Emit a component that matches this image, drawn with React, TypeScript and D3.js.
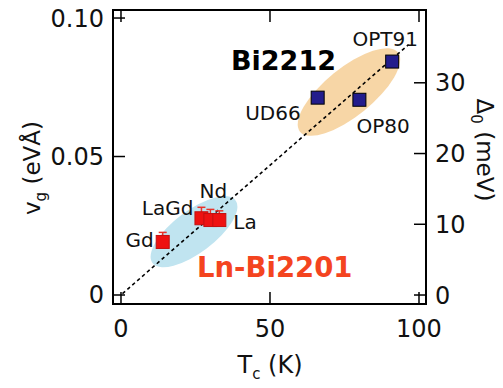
import React, { useEffect, useRef } from "react";
import * as d3 from "d3";

// Bi2212 (blue squares): Tc (K), gap Δ0 (meV)
const bi2212Names = ["UD66", "OP80", "OPT91"];
const bi2212Tc = [66, 80, 91];
const bi2212Gap = [27.9, 27.6, 33.0];

// Ln-Bi2201 (red squares with error bars)
const bi2201Names = ["Gd", "LaGd", "Nd", "La"];
const bi2201Tc = [14, 27, 30, 33];
const bi2201Gap = [7.5, 10.85, 10.6, 10.6];
const bi2201Err = [1.35, 1.55, 1.5, 1.3];

// dotted guide line through origin
const fitTc = [0.5, 96.5];
const fitGap = [0.2, 35.4];

// highlighted regions: centre (Tc, gap)
const regionTc = [76.5, 24.5];
const regionGap = [28.7, 8.95];

const xTicks = [0, 50, 100];
const vTicks = [0, 0.05, 0.1];
const gapTicks = [0, 10, 20, 30];

const W = 503;
const H = 388;
const box = { left: 113, right: 426, top: 10, bottom: 304 };
const font = "DejaVu Sans, Verdana, sans-serif";

const App = () => {
  const svgRef = useRef<SVGSVGElement>(null);

  useEffect(() => {
    const svg = d3.select(svgRef.current);
    svg.selectAll("*").remove();

    const x = d3.scaleLinear().domain([-2.68, 102.35]).range([box.left, box.right]);
    const yV = d3.scaleLinear().domain([-0.00325, 0.1029]).range([box.bottom, box.top]);
    const yG = d3.scaleLinear().domain([-1.27, 40.29]).range([box.bottom, box.top]);

    const g = svg.append("g");

    // shaded ellipses
    const regionStyle = [
      { fill: "#f7d6a6", rx: 63, ry: 24, angle: -39 },
      { fill: "#c0e4f0", rx: 52, ry: 21, angle: -37 },
    ];
    regionTc.forEach((tc, i) => {
      const s = regionStyle[i];
      g.append("ellipse")
        .attr("cx", 0)
        .attr("cy", 0)
        .attr("rx", s.rx)
        .attr("ry", s.ry)
        .attr("fill", s.fill)
        .attr("transform", `translate(${x(tc)},${yG(regionGap[i])}) rotate(${s.angle})`);
    });

    // dotted guide
    const line = d3
      .line<number>()
      .x((d, i) => x(fitTc[i]))
      .y((d) => yG(d));
    g.append("path")
      .attr("d", line(fitGap))
      .attr("fill", "none")
      .attr("stroke", "#000")
      .attr("stroke-width", 1.6)
      .attr("stroke-dasharray", "3.5,3");

    // red error bars + squares
    const sq = 13;
    bi2201Tc.forEach((tc, i) => {
      const cx = x(tc);
      const cy = yG(bi2201Gap[i]);
      const top = yG(bi2201Gap[i] + bi2201Err[i]);
      g.append("line")
        .attr("x1", cx).attr("x2", cx)
        .attr("y1", top).attr("y2", cy)
        .attr("stroke", "#e8322a").attr("stroke-width", 1.5);
      g.append("line")
        .attr("x1", cx - 4).attr("x2", cx + 4)
        .attr("y1", top).attr("y2", top)
        .attr("stroke", "#e8322a").attr("stroke-width", 1.5);
    });
    bi2201Tc.forEach((tc, i) => {
      g.append("rect")
        .attr("x", x(tc) - sq / 2)
        .attr("y", yG(bi2201Gap[i]) - sq / 2)
        .attr("width", sq)
        .attr("height", sq)
        .attr("fill", "#ee1111")
        .attr("stroke", "#c21010")
        .attr("stroke-width", 1);
    });

    // blue squares
    bi2212Tc.forEach((tc, i) => {
      g.append("rect")
        .attr("x", x(tc) - sq / 2)
        .attr("y", yG(bi2212Gap[i]) - sq / 2)
        .attr("width", sq)
        .attr("height", sq)
        .attr("fill", "#231c8c")
        .attr("stroke", "#000")
        .attr("stroke-width", 1);
    });

    // point labels (offsets in px)
    const blueLab = [
      { dx: -17, dy: 22, anchor: "end" },
      { dx: -3, dy: 33, anchor: "start" },
      { dx: -7, dy: -16, anchor: "middle" },
    ];
    bi2212Names.forEach((n, i) => {
      const o = blueLab[i];
      g.append("text")
        .attr("x", x(bi2212Tc[i]) + o.dx)
        .attr("y", yG(bi2212Gap[i]) + o.dy)
        .attr("text-anchor", o.anchor)
        .attr("font-family", font)
        .attr("font-size", 20)
        .attr("fill", "#111")
        .text(n);
    });
    const redLab = [
      { dx: -9, dy: 5, anchor: "end" },
      { dx: -8, dy: -3, anchor: "end" },
      { dx: 3, dy: -22, anchor: "middle" },
      { dx: 14, dy: 9, anchor: "start" },
    ];
    bi2201Names.forEach((n, i) => {
      const o = redLab[i];
      g.append("text")
        .attr("x", x(bi2201Tc[i]) + o.dx)
        .attr("y", yG(bi2201Gap[i]) + o.dy)
        .attr("text-anchor", o.anchor)
        .attr("font-family", font)
        .attr("font-size", 20)
        .attr("fill", "#111")
        .text(n);
    });

    // group titles
    g.append("text")
      .attr("x", 231).attr("y", 70)
      .attr("font-family", font).attr("font-size", 27).attr("font-weight", "bold")
      .attr("fill", "#000")
      .text("Bi2212");
    g.append("text")
      .attr("x", 197).attr("y", 277)
      .attr("font-family", font).attr("font-size", 27.5).attr("font-weight", "bold")
      .attr("fill", "#f4441f")
      .text("Ln-Bi2201");

    // frame
    g.append("rect")
      .attr("x", box.left).attr("y", box.top)
      .attr("width", box.right - box.left).attr("height", box.bottom - box.top)
      .attr("fill", "none").attr("stroke", "#000").attr("stroke-width", 2);

    const tickLen = 12;
    const tickStyle = (s: any) =>
      s.attr("stroke", "#000").attr("stroke-width", 1.5);

    xTicks.forEach((t) => {
      const px = x(t);
      tickStyle(g.append("line").attr("x1", px).attr("x2", px).attr("y1", box.bottom).attr("y2", box.bottom - tickLen));
      tickStyle(g.append("line").attr("x1", px).attr("x2", px).attr("y1", box.top).attr("y2", box.top + tickLen));
      g.append("text")
        .attr("x", px).attr("y", 337)
        .attr("text-anchor", "middle")
        .attr("font-family", font).attr("font-size", 24).attr("fill", "#111")
        .text(t);
    });
    vTicks.forEach((t) => {
      const py = yV(t);
      tickStyle(g.append("line").attr("x1", box.left).attr("x2", box.left + tickLen).attr("y1", py).attr("y2", py));
      g.append("text")
        .attr("x", 104).attr("y", py + 8.5)
        .attr("text-anchor", "end")
        .attr("font-family", font).attr("font-size", 24).attr("fill", "#111")
        .text(t === 0 ? "0" : d3.format(".2f")(t));
    });
    gapTicks.forEach((t) => {
      const py = yG(t);
      tickStyle(g.append("line").attr("x1", box.right).attr("x2", box.right - tickLen).attr("y1", py).attr("y2", py));
      g.append("text")
        .attr("x", 435).attr("y", py + 8.5)
        .attr("text-anchor", "start")
        .attr("font-family", font).attr("font-size", 24).attr("fill", "#111")
        .text(t);
    });

    // axis titles
    const xt = g.append("text")
      .attr("x", 270).attr("y", 373)
      .attr("text-anchor", "middle")
      .attr("font-family", font).attr("font-size", 24).attr("fill", "#111");
    xt.append("tspan").text("T");
    xt.append("tspan").attr("font-size", 15).attr("dy", 6).text("c");
    xt.append("tspan").attr("dy", -6).text(" (K)");

    const yt = g.append("text")
      .attr("transform", "translate(40,168) rotate(-90)")
      .attr("text-anchor", "middle")
      .attr("font-family", font).attr("font-size", 23).attr("fill", "#111");
    yt.append("tspan").text("v");
    yt.append("tspan").attr("font-size", 15).attr("dy", 6).text("g");
    yt.append("tspan").attr("dy", -6).text(" (eVÅ)");

    const rt = g.append("text")
      .attr("transform", "translate(477,150) rotate(90)")
      .attr("text-anchor", "middle")
      .attr("font-family", font).attr("font-size", 23).attr("fill", "#111");
    rt.append("tspan").text("Δ");
    rt.append("tspan").attr("font-size", 15).attr("dy", 6).text("0");
    rt.append("tspan").attr("dy", -6).text(" (meV)");
  }, []);

  return (
    <svg
      ref={svgRef}
      width={W}
      height={H}
      style={{ position: "absolute", left: 0, top: 0, background: "#fff" }}
    />
  );
};

export default App;
